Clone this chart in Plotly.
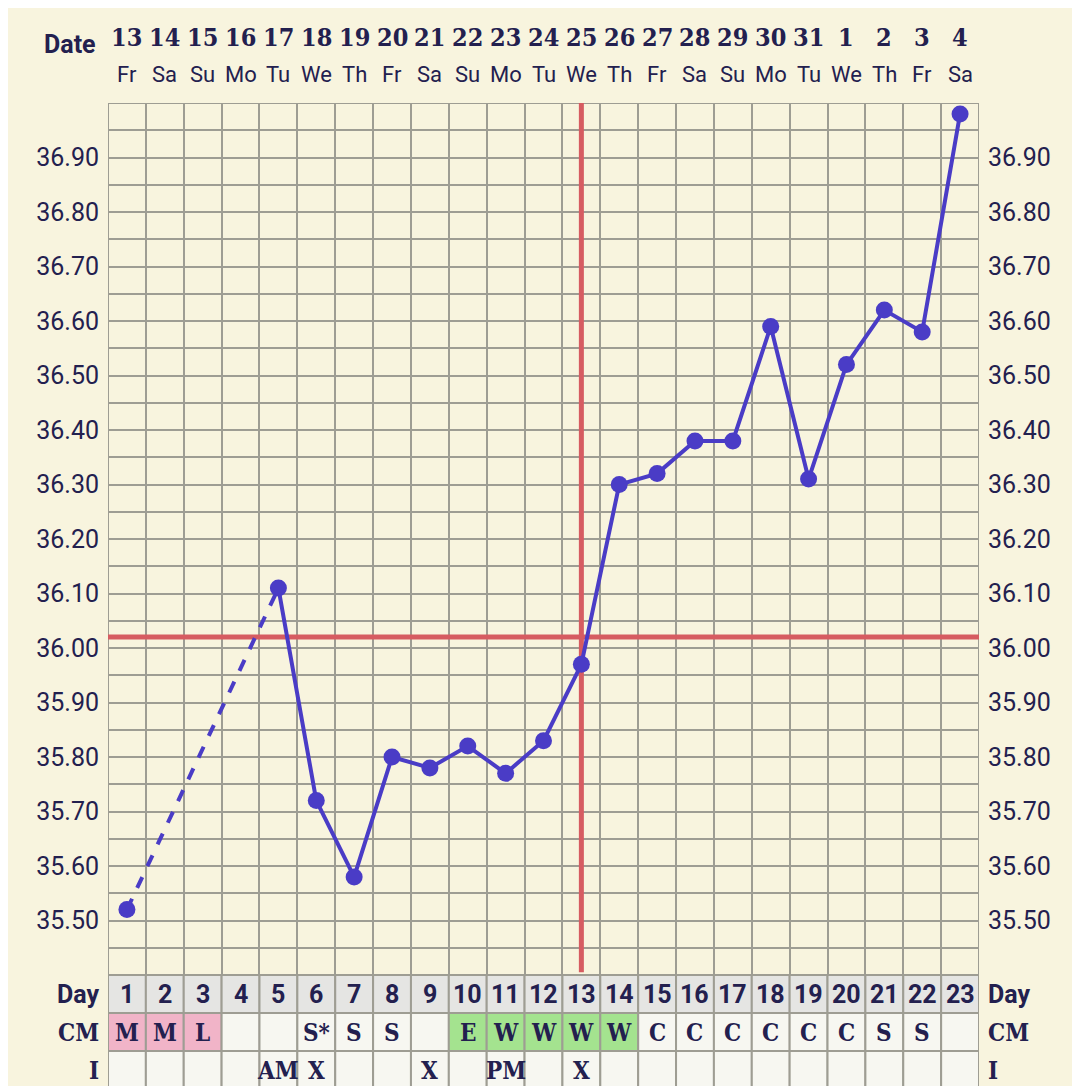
import plotly.graph_objects as go

# ---------------- data ----------------
cycle_days = list(range(1, 24))
dates = ["13", "14", "15", "16", "17", "18", "19", "20", "21", "22", "23", "24",
         "25", "26", "27", "28", "29", "30", "31", "1", "2", "3", "4"]
weekdays = ["Fr", "Sa", "Su", "Mo", "Tu", "We", "Th", "Fr", "Sa", "Su", "Mo", "Tu",
            "We", "Th", "Fr", "Sa", "Su", "Mo", "Tu", "We", "Th", "Fr", "Sa"]
temps = [35.52, None, None, None, 36.11, 35.72, 35.58, 35.80, 35.78, 35.82, 35.77,
         35.83, 35.97, 36.30, 36.32, 36.38, 36.38, 36.59, 36.31, 36.52, 36.62,
         36.58, 36.98]
cm = ["M", "M", "L", "", "", "S*", "S", "S", "", "E", "W", "W", "W", "W",
      "C", "C", "C", "C", "C", "C", "S", "S", ""]
intercourse = ["", "", "", "", "AM", "X", "", "", "X", "", "PM", "", "X",
               "", "", "", "", "", "", "", "", "", ""]
coverline = 36.02
ovulation_day = 13
y_min, y_max = 35.40, 37.00
label_values = [round(35.50 + 0.1 * i, 2) for i in range(15)]

# ---------------- style ----------------
BG = "#F8F4DE"
GRID = "#9E9D93"
LINE = "#4A3CC6"
RED = "#D65C61"
TXT = "#23204F"
CELL = "#F7F7F1"
DAYCELL = "#E5E5E3"
PINK = "#F1B4C8"
GREEN = "#A4E38F"
SANS = "Roboto, Inter, sans-serif"
SLAB = "DejaVu Serif Condensed, DejaVu Serif, serif"

# page has an 8px body margin -> figure is 8px smaller and offset
OFF = 8
W, H = 1080 - OFF, 1086 - OFF
ml, mr, mt, mb = 108 - OFF, 1080 - 979, 103 - OFF, 0
plot_h = H - mt - mb
temp_bottom_px = 975 - OFF
split = (H - temp_bottom_px) / plot_h
row_h_px = 38
table_units = (H - temp_bottom_px) / row_h_px

fig = go.Figure()

fig.add_trace(go.Scatter(
    x=cycle_days, y=temps, mode="lines+markers", connectgaps=False,
    line=dict(color=LINE, width=4), marker=dict(color=LINE, size=17),
    showlegend=False, hoverinfo="skip"))

# dashed bridge over missing days
dash_x, dash_y = [], []
for i in range(1, len(temps)):
    if temps[i] is None and temps[i - 1] is not None:
        j = i
        while j < len(temps) and temps[j] is None:
            j += 1
        if j < len(temps):
            dash_x += [cycle_days[i - 1], cycle_days[j], None]
            dash_y += [temps[i - 1], temps[j], None]
fig.add_trace(go.Scatter(
    x=dash_x, y=dash_y, mode="lines",
    line=dict(color=LINE, width=4, dash="dash"),
    showlegend=False, hoverinfo="skip"))

fig.add_trace(go.Scatter(x=[cycle_days[0]], y=[y_min], yaxis="y3", mode="markers",
                         marker=dict(opacity=0), showlegend=False, hoverinfo="skip"))

grid_vals = [round(y_min + 0.05 * k, 2) for k in range(int(round((y_max - y_min) / 0.05)) + 1)]
grid_text = [f"{v:.2f}" if v in label_values else "" for v in grid_vals]

yaxis_common = dict(
    range=[y_min, y_max], tickvals=grid_vals, ticktext=grid_text,
    tickfont=dict(family=SANS, size=25, color=TXT), ticks="",
    ticklabelstandoff=8, zeroline=False, fixedrange=True,
)

fig.update_layout(
    width=W, height=H, paper_bgcolor=BG, plot_bgcolor=BG,
    margin=dict(l=ml, r=mr, t=mt, b=mb),
    xaxis=dict(range=[0.5, len(cycle_days) + 0.5],
               tickvals=[d - 0.5 for d in cycle_days] + [len(cycle_days) + 0.5],
               showticklabels=False, showgrid=True, gridcolor=GRID, gridwidth=2,
               zeroline=False, ticks="", anchor="y", fixedrange=True),
    yaxis=dict(domain=[split, 1], showgrid=True, gridcolor=GRID, gridwidth=2,
               side="left", **yaxis_common),
    yaxis3=dict(overlaying="y", side="right", showgrid=False, **yaxis_common),
    yaxis2=dict(domain=[0, split], range=[-table_units, 0], showgrid=False,
                showticklabels=False, zeroline=False, anchor="x", fixedrange=True),
    showlegend=False,
)

fig.add_shape(type="rect", xref="x", yref="y", x0=0.5, x1=len(cycle_days) + 0.5,
              y0=y_min, y1=y_max, line=dict(color=GRID, width=2), layer="between")

fig.add_shape(type="line", xref="x", yref="y", x0=0.5, x1=len(cycle_days) + 0.5,
              y0=coverline, y1=coverline, line=dict(color=RED, width=5), layer="between")
fig.add_shape(type="line", xref="x", yref="y", x0=ovulation_day, x1=ovulation_day,
              y0=y_min + 0.005, y1=y_max, line=dict(color=RED, width=5), layer="between")

# header annotations
date_y = 1 + (mt - (38 - OFF)) / plot_h
wd_y = 1 + (mt - (75 - OFF)) / plot_h
fig.add_annotation(xref="paper", yref="paper", x=-0.012, y=1 + (mt - (45 - OFF)) / plot_h,
                   text="<b>Date</b>", showarrow=False, xanchor="right", yanchor="middle",
                   font=dict(family=SANS, size=25, color=TXT))
for d, dt, wd in zip(cycle_days, dates, weekdays):
    fig.add_annotation(xref="x", yref="paper", x=d, y=date_y, text=f"<b>{dt}</b>",
                       showarrow=False, yanchor="middle",
                       font=dict(family=SLAB, size=25, color=TXT))
    fig.add_annotation(xref="x", yref="paper", x=d, y=wd_y, text=wd,
                       showarrow=False, yanchor="middle",
                       font=dict(family=SANS, size=22, color=TXT))

def cm_color(v):
    if v in ("M", "L"):
        return PINK
    if v in ("E", "W"):
        return GREEN
    return CELL

rows = [
    ("Day", [str(d) for d in cycle_days], [DAYCELL] * len(cycle_days), SANS),
    ("CM", cm, [cm_color(v) for v in cm], SLAB),
    ("I", intercourse, [CELL] * len(cycle_days), SLAB),
]
for r, (name, vals, colors, fam) in enumerate(rows):
    top, bot = -r, -r - 1
    fsize = 25 if fam == SANS else 24
    for d, v, c in zip(cycle_days, vals, colors):
        fig.add_shape(type="rect", xref="x", yref="y2", x0=d - 0.5, x1=d + 0.5,
                      y0=bot, y1=top, fillcolor=c, line=dict(color=GRID, width=2),
                      layer="above")
        if v:
            fig.add_annotation(xref="x", yref="y2", x=d, y=(top + bot) / 2,
                               text=f"<b>{v}</b>", showarrow=False, yanchor="middle",
                               font=dict(family=fam, size=fsize, color=TXT))
    for xx, anchor in ((-0.008, "right"), (1.008, "left")):
        fig.add_annotation(xref="paper", yref="y2", x=xx, y=(top + bot) / 2,
                           text=f"<b>{name}</b>", showarrow=False, xanchor=anchor,
                           yanchor="middle",
                           font=dict(family=fam, size=fsize, color=TXT))

fig.write_html("out.html")
